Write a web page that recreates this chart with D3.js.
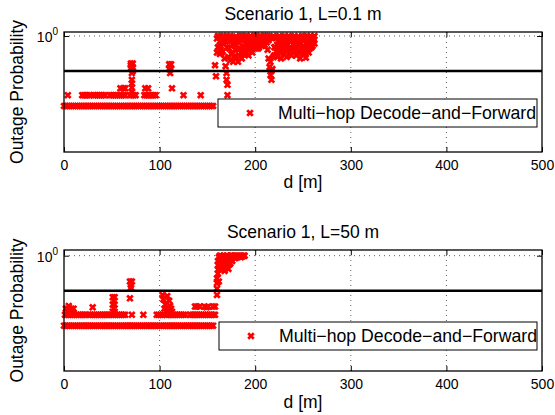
<!DOCTYPE html>
<html>
<head>
<meta charset="utf-8">
<script src="https://cdn.jsdelivr.net/npm/d3@7"></script>
<style>
  body { margin: 0; background: #fff; }
  text { font-family: "Liberation Sans", Arial, Helvetica, sans-serif; fill: #000; }
</style>
</head>
<body>
<svg id="chart" width="555" height="415"></svg>
<script>
// ---------- data ----------
const xTicks = [0, 100, 200, 300, 400, 500];
const legendLabel = "Multi\u2212hop Decode\u2212and\u2212Forward";
const targetOutage = 0.5;          // horizontal reference level

// floor level shared by both scenarios (distances where the outage sits at its floor)
const floorLevel = 0.25;
const floorD = [0,2,4,6,8,10,12,14,16,18,20,22,24,26,28,30,32,34,36,38,40,42,44,46,48,50,
  52,54,56,58,60,62,64,66,68,70,72,74,76,78,80,82,84,86,88,90,92,94,96,98,100,102,104,106,
  108,110,112,114,116,118,120,122,124,126,128,130,132,134,136,138,140,142,144,146,148,150,
  152,154,156];

// second level just above the floor
const rowLevel = 0.31;
const rowD_L01 = [4,19,21,23,25,27,31,33,35,37,39,41,43,48,50,52,54,56,58,60,62,64,
  69,71,73,75,84,86,88,90,92,94,96,125,143];
const rowD_L50 = [1,3,5,7,9,11,13,15,17,19,21,23,26,28,30,32,34,36,38,40,42,44,46,48,
  50,52,54,56,58,60,62,64,71,83,97,99,101,103,107,109,111,113,115,117,119,121,123,125,127,
  132,134,136,138,140,142,144,146,148,150,152,154,156,158];

// Scenario 1, L = 0.1 m : remaining points
const d_L01 = [59,62,64,85,88,113,
  70,72,70,72,71,71,71,71,71,70,72,
  110,112,110,112,111,
  158,159,160,161,162,163,164,165,166,167,168,169,170,170,171,171,172,173,174,175,176,177,
  178,179,180,181,182,183,184,185,186,187,188,189,190,191,192,193,194,195,196,197,198,199,
  200,201,202,203,204,205,206,207,208,209,210,211,212,213,214,215,216,217,218,219,220,221,
  222,223,224,225,226,227,228,229,230,231,232,233,234,235,236,237,238,239,240,241,242,243,
  244,245,246,247,248,249,250,251,252,253,254,255,256,257,258,259,260,261,262];
const p_L01 = [0.355,0.355,0.355,0.355,0.355,0.355,
  0.58,0.58,0.53,0.53,0.48,0.42,0.39,0.36,0.33,0.56,0.50,
  0.57,0.57,0.52,0.52,0.48,
  0.56,0.45,0.95,1.00,0.80,0.90,0.99,0.72,0.88,1.00,0.64,0.55,0.48,0.42,0.38,0.31,0.66,0.78,
  0.62,0.92,0.70,0.60,0.84,0.96,0.66,0.78,0.60,0.88,1.00,0.72,0.64,0.82,0.95,0.70,0.86,1.00,
  0.76,0.68,0.90,1.00,0.80,0.72,0.94,1.00,0.84,0.78,0.97,0.90,0.80,1.00,0.86,0.82,0.98,0.92,
  0.84,1.00,0.88,0.76,0.64,0.54,0.46,0.42,0.52,0.66,0.80,0.96,0.74,0.66,0.90,1.00,0.72,0.64,
  0.86,0.98,0.70,0.80,0.95,0.66,0.84,1.00,0.76,0.90,0.97,0.72,0.85,1.00,0.78,0.68,0.92,0.99,
  0.74,0.64,0.86,1.00,0.70,0.80,0.94,0.65,0.78,0.98,0.72,0.88,1.00,0.80,0.92,0.98,0.86];
// second realisation in the high-outage region (L = 0.1 m)
const d2_L01 = [160,161,162,163,164,165,166,167,168,169,170,171,172,173,174,175,176,177,178,
  179,180,181,182,183,184,185,186,187,188,189,190,191,192,193,194,195,196,197,198,199,200,
  201,202,203,204,205,206,207,208,209,210,211,212,213,214,215,216,217,218,219,220,221,222,
  223,224,225,226,227,228,229,230,231,232,233,234,235,236,237,238,239,240,241,242,243,244,
  245,246,247,248,249,250,251,252,253,254,255,256,257,258,259,260,261,262];
const p2_L01 = [0.72,0.80,0.99,0.70,0.82,0.96,0.74,0.85,0.97,0.90,1.00,0.80,0.98,0.90,1.00,
  0.70,0.98,0.86,0.66,0.76,0.99,0.90,0.96,0.68,0.78,0.92,1.00,0.70,0.78,0.99,0.74,0.80,0.96,
  0.88,0.78,0.84,0.98,0.90,0.80,0.86,0.96,1.00,0.82,0.78,0.95,0.88,0.99,0.92,0.84,1.00,0.95,
  0.90,0.98,1.00,0.92,0.96,0.60,0.50,0.96,1.00,0.68,0.80,0.98,0.84,0.74,0.82,0.96,0.88,0.74,
  0.80,0.92,1.00,0.74,0.88,0.96,0.70,0.98,0.80,0.68,0.94,0.76,0.88,0.98,0.84,0.74,0.82,0.96,
  0.88,0.72,0.80,0.92,0.99,0.70,0.86,1.00,0.74,0.90,0.78,0.84,0.96,0.82,0.88,1.00];

// Scenario 1, L = 50 m : remaining points
const d_L50 = [2,4,6,8,10,5,30,
  51,53,52,51,53,52,51,53,
  69,71,70,70,69,
  103,104,106,108,110,111,112,105,107,113,109,
  137,139,142,147,149,151,156,158,
  160,160,160,160,161,161,161,161,162,162,163,164,165,166,167,168,169,170,171,172,173,174,
  175,176,177,178,179,180,181,182,183,184,185,186,187,188,189];
const p_L50 = [0.35,0.35,0.35,0.35,0.35,0.37,0.36,
  0.44,0.44,0.41,0.38,0.38,0.35,0.33,0.33,
  0.60,0.60,0.56,0.53,0.43,
  0.46,0.42,0.38,0.45,0.41,0.37,0.35,0.35,0.33,0.33,0.35,
  0.365,0.365,0.365,0.365,0.36,0.365,0.365,0.365,
  0.46,0.52,0.58,0.64,0.70,0.76,0.83,0.90,0.97,0.60,1.00,0.86,0.76,0.94,0.80,0.74,0.90,1.00,
  0.82,0.77,0.92,0.86,1.00,0.90,0.97,1.00,0.95,1.00,0.97,1.00,0.98,1.00,0.97,1.00,0.99,1.00,1.00];
// second realisation in the high-outage region (L = 50 m)
const d2_L50 = [163,164,165,166,167,168,169,170,171,172,173,174,175,176];
const p2_L50 = [0.82,1.00,0.94,0.78,1.00,0.90,0.78,0.86,1.00,0.95,0.84,1.00,0.92,1.00];

// ---------- layout ----------
const W = 555, H = 415;
const plotLeft = 64, plotRight = 542;
const panels = [
  { title: "Scenario 1, L=0.1 m", top: 32, bottom: 152, yMin: 0.1006, yMax: 1.082,
    rowD: rowD_L01, d: d_L01, p: p_L01, d2: d2_L01, p2: p2_L01,
    legend: { x0: 218, x1: 537, y0: 99, y1: 127 }, xLabelGap: 35.5 },
  { title: "Scenario 1, L=50 m", top: 250, bottom: 371, yMin: 0.102, yMax: 1.119,
    rowD: rowD_L50, d: d_L50, p: p_L50, d2: d2_L50, p2: p2_L50,
    legend: { x0: 219, x1: 537, y0: 322, y1: 350 }, xLabelGap: 36.5 }
];

const svg = d3.select("#chart");
svg.append("rect").attr("width", W).attr("height", H).attr("fill", "#fff");

const x = d3.scaleLinear().domain([0, 500]).range([plotLeft, plotRight]);
const cross = "M-2.8,-2.8L2.8,2.8M-2.8,2.8L2.8,-2.8";
const red = "#ff0000";
const markerWidth = 2.7;

panels.forEach(cfg => {
  const y = d3.scaleLog().domain([cfg.yMin, cfg.yMax]).range([cfg.bottom, cfg.top]);
  const g = svg.append("g");
  const h = cfg.bottom - cfg.top;

  // dotted grid
  const grid = g.append("g").attr("stroke", "#333").attr("stroke-width", 0.8)
    .attr("stroke-dasharray", "1,4").attr("fill", "none");
  xTicks.slice(1, -1).forEach(t => {
    grid.append("line").attr("x1", x(t)).attr("x2", x(t))
      .attr("y1", cfg.top).attr("y2", cfg.bottom);
  });
  grid.append("line").attr("x1", plotLeft).attr("x2", plotRight)
    .attr("y1", y(1)).attr("y2", y(1));

  // points
  const pts = [];
  floorD.forEach(d => pts.push([d, floorLevel]));
  cfg.rowD.forEach(d => pts.push([d, rowLevel]));
  cfg.d.forEach((d, i) => pts.push([d, cfg.p[i]]));
  cfg.d2.forEach((d, i) => pts.push([d, cfg.p2[i]]));
  g.append("g").selectAll("path").data(pts).join("path")
    .attr("d", cross)
    .attr("transform", v => `translate(${x(v[0])},${y(v[1])})`)
    .attr("stroke", red).attr("stroke-width", markerWidth).attr("fill", "none");

  // target outage line
  g.append("line").attr("x1", plotLeft).attr("x2", plotRight)
    .attr("y1", y(targetOutage)).attr("y2", y(targetOutage))
    .attr("stroke", "#000").attr("stroke-width", 2.6);

  // axes (ticks point inward)
  const axB = g.append("g").attr("transform", `translate(0,${cfg.bottom})`)
    .call(d3.axisBottom(x).tickValues(xTicks).tickSize(-5).tickPadding(8)
      .tickFormat(d3.format("d")));
  axB.select(".domain").remove();
  axB.selectAll("text").attr("font-size", 14).attr("font-family", null);
  const axT = g.append("g").attr("transform", `translate(0,${cfg.top})`)
    .call(d3.axisTop(x).tickValues(xTicks).tickSize(-5).tickFormat(""));
  axT.select(".domain").remove();
  const axL = g.append("g").attr("transform", `translate(${plotLeft},0)`)
    .call(d3.axisLeft(y).tickValues([1]).tickSize(-5).tickFormat(""));
  axL.select(".domain").remove();
  const axR = g.append("g").attr("transform", `translate(${plotRight},0)`)
    .call(d3.axisRight(y).tickValues([1]).tickSize(-5).tickFormat(""));
  axR.select(".domain").remove();
  g.selectAll(".tick line").attr("stroke", "#000").attr("stroke-width", 1);

  // 10^0 label
  const yl = g.append("text").attr("x", 58).attr("y", y(1) + 6.5)
    .attr("text-anchor", "end").attr("font-size", 14);
  yl.append("tspan").text("10");
  yl.append("tspan").attr("font-size", 10).attr("dy", -7).text("0");

  // frame
  g.append("rect").attr("x", plotLeft).attr("y", cfg.top)
    .attr("width", plotRight - plotLeft).attr("height", h)
    .attr("fill", "none").attr("stroke", "#000").attr("stroke-width", 1.3);

  // legend
  const L = cfg.legend, lc = (L.y0 + L.y1) / 2;
  g.append("rect").attr("x", L.x0).attr("y", L.y0)
    .attr("width", L.x1 - L.x0).attr("height", L.y1 - L.y0)
    .attr("fill", "#fff").attr("stroke", "#000").attr("stroke-width", 1);
  g.append("path").attr("d", cross).attr("transform", `translate(${L.x0 + 32},${lc})`)
    .attr("stroke", red).attr("stroke-width", markerWidth).attr("fill", "none");
  g.append("text").attr("x", L.x0 + 60).attr("y", lc + 6.3)
    .attr("font-size", 17.7).text(legendLabel);

  // titles and axis labels
  g.append("text").attr("x", (plotLeft + plotRight) / 2).attr("y", cfg.top - 12)
    .attr("text-anchor", "middle").attr("font-size", 17.5).text(cfg.title);
  g.append("text").attr("x", (plotLeft + plotRight) / 2).attr("y", cfg.bottom + cfg.xLabelGap)
    .attr("text-anchor", "middle").attr("font-size", 17.5).text("d [m]");
  g.append("text")
    .attr("transform", `translate(23,${(cfg.top + cfg.bottom) / 2}) rotate(-90)`)
    .attr("text-anchor", "middle").attr("font-size", 17.5).text("Outage Probability");
});
</script>
</body>
</html>
